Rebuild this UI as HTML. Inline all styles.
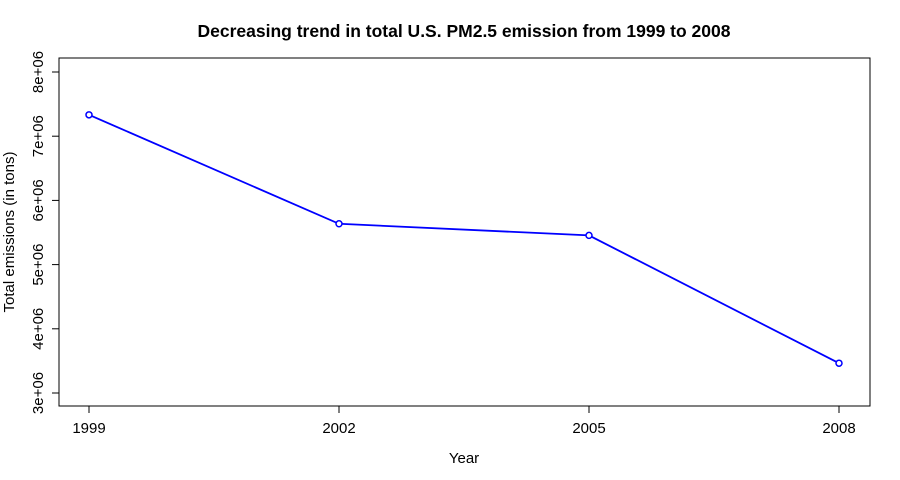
<!DOCTYPE html>
<html><head><meta charset="utf-8"><style>
html,body{margin:0;padding:0;background:#fff;}
svg{display:block;font-family:"Liberation Sans",Arial,sans-serif;}
</style></head><body>
<svg id="chart" width="900" height="480" viewBox="0 0 900 480">
<text x="464" y="37" text-anchor="middle" font-size="17.5" font-weight="bold">Decreasing trend in total U.S. PM2.5 emission from 1999 to 2008</text>
<rect x="59" y="58" width="811" height="348" fill="none" stroke="#000" stroke-width="1"/>
<g id="xaxis"></g>
<g id="yaxis"></g>
<text x="464" y="463" text-anchor="middle" font-size="15">Year</text>
<text transform="translate(14,232) rotate(-90)" text-anchor="middle" font-size="15">Total emissions (in tons)</text>
<g id="series"></g>
</svg>
<script>
const years = [1999, 2002, 2005, 2008];
const emissions = [7332967, 5635780, 5454703, 3464206];
const xTicks = [1999, 2002, 2005, 2008];
const yTicks = [3e6, 4e6, 5e6, 6e6, 7e6, 8e6];
const yTickLabels = ["3e+06","4e+06","5e+06","6e+06","7e+06","8e+06"];

const NS = "http://www.w3.org/2000/svg";
function xs(v){ return 89 + (v - 1999) / (2008 - 1999) * (839 - 89); }
function ys(v){ return 393 - (v - 3e6) / (8e6 - 3e6) * (393 - 72); }
function mk(tag, attrs, parent){
  const e = document.createElementNS(NS, tag);
  for (const k in attrs) e.setAttribute(k, attrs[k]);
  parent.appendChild(e); return e;
}
const xa = document.getElementById('xaxis');
mk('line',{x1:xs(xTicks[0]),x2:xs(xTicks[xTicks.length-1]),y1:406,y2:406,stroke:'#000'},xa);
xTicks.forEach(t=>{
  const l = mk('line',{x1:xs(t),x2:xs(t),y1:406,y2:413,stroke:'#000'},xa);
  
  
  const tx = mk('text',{x:xs(t),y:433,'text-anchor':'middle','font-size':15},xa);
  tx.textContent = t;
  
  
});
const ya = document.getElementById('yaxis');
mk('line',{x1:59,x2:59,y1:ys(yTicks[0]),y2:ys(yTicks[yTicks.length-1]),stroke:'#000'},ya);
yTicks.forEach((t,i)=>{
  const l = mk('line',{x1:52,x2:59,y1:ys(t),y2:ys(t),stroke:'#000'},ya);
  
  
  const tx = mk('text',{transform:`translate(43,${ys(t)}) rotate(-90)`,'text-anchor':'middle','font-size':15},ya);
  tx.textContent = yTickLabels[i];
  
  
});
const s = document.getElementById('series');
const pts = years.map((y,i)=>xs(y)+','+ys(emissions[i])).join(' ');
const pl = mk('polyline',{points:pts,fill:'none',stroke:'#0000ff','stroke-width':1.8},s);


years.forEach((y,i)=>{
  const c = mk('circle',{cx:xs(y),cy:ys(emissions[i]),r:3,fill:'#fff',stroke:'#0000ff','stroke-width':1.5},s);
  
  
});
</script>
</body></html>
